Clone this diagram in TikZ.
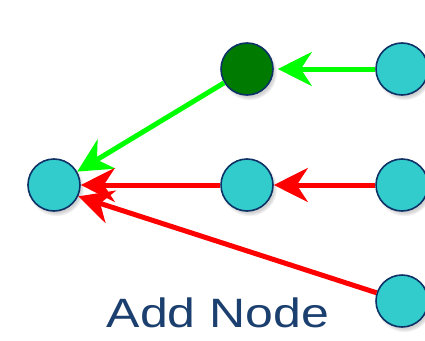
\documentclass[tikz,border=0pt]{standalone}
\usepackage{fontspec}
\setmainfont{Liberation Sans}
\newfontfamily\captionfont[FakeStretch=1.22]{Liberation Sans}
\usetikzlibrary{arrows.meta,shadows}
\definecolor{teal}{HTML}{33CCCC}
\definecolor{navy}{HTML}{0E3166}
\definecolor{newnode}{HTML}{007A00}
\definecolor{ink}{HTML}{1B3F6E}

\begin{document}
\begin{tikzpicture}[
  x=1pt, y=-1pt,
  vertex/.style={circle, draw=navy, line width=1.6pt, fill=teal, minimum size=52pt,
                 inner sep=0pt,
                 circular drop shadow={shadow xshift=2pt, shadow yshift=-3pt,
                                       shadow scale=1.08, opacity=0.35}},
  added/.style={vertex, fill=newnode},
  edge/.style={line width=5pt, -{Stealth[length=34pt, width=34pt, inset=11pt]}},
  fresh/.style={edge, draw=green},
  old/.style={edge, draw=red}]
\useasboundingbox (0,0) rectangle (425,340);
\node[vertex] (root) at (54,185) {};
\node[added] (top) at (247,69) {};
\node[vertex] (mid) at (247,185) {};
\node[vertex] (srcA) at (402,69) {};
\node[vertex] (srcB) at (402,185) {};
\node[vertex] (srcC) at (402,301) {};
\draw[fresh, shorten >=4pt] (srcA) -- (top);
\draw[fresh] (top) -- (root.30);
\draw[old] (srcB) -- (mid);
\draw[old] (mid) -- (root);
\draw[old] (srcC) -- (root.-25);
\node[anchor=base, text=ink, font=\captionfont\fontsize{41}{48}\selectfont] (caption)
  at (218,327) {Add Node};
\end{tikzpicture}
\end{document}
